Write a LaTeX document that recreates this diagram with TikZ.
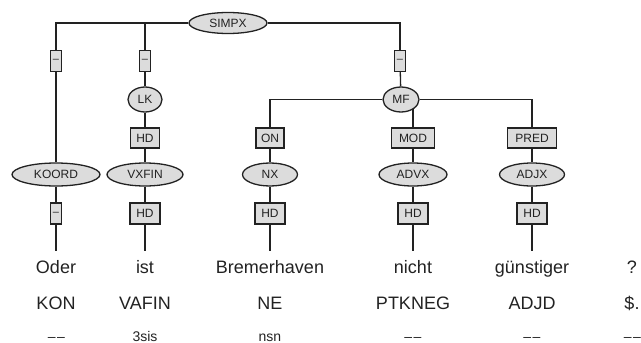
\documentclass[tikz,border=0pt]{standalone}
\usepackage{fontspec}
\setmainfont{Liberation Sans}
\usetikzlibrary{shapes.geometric,backgrounds}
\definecolor{nodefill}{HTML}{DCDCDC}
\definecolor{ink}{HTML}{222222}
\begin{document}
\begin{tikzpicture}[x=1pt,y=-1pt,
  line width=1.3pt,
  conn/.style={draw=ink, line width=1.3pt},
  cat/.style={ellipse, draw=ink, fill=nodefill, line width=1.3pt, inner sep=0pt, text=ink,
    font=\fontsize{12}{12}\selectfont},
  fnbox/.style={rectangle, draw=ink, fill=nodefill, line width=1.3pt, inner sep=0pt,
    minimum height=20, text=ink, font=\fontsize{12}{12}\selectfont},
  dashbox/.style={rectangle, draw=ink, fill=nodefill, line width=1.3pt, inner sep=0pt,
    minimum width=11, minimum height=21, text=ink, font=\fontsize{11}{11}\selectfont},
  wordtxt/.style={anchor=base, inner sep=0pt, text height=13, text depth=4, text=ink,
    font=\fontsize{18}{18}\selectfont},
  postag/.style={anchor=base, inner sep=0pt, text=ink, font=\fontsize{18}{18}\selectfont},
  morphtxt/.style={anchor=base, inner sep=0pt, text=ink, font=\fontsize{14}{14}\selectfont}
]
\useasboundingbox (0,0) rectangle (641,343);

% category nodes
\node[cat, minimum width=78, minimum height=21] (simpx) at (228,23) {SIMPX};
\node[cat, minimum width=34, minimum height=25] (lk) at (145,99.5) {LK};
\node[cat, minimum width=36, minimum height=25] (mf) at (401,99.5) {MF};
\node[cat, minimum width=88, minimum height=23] (koord) at (56,174.5) {KOORD};
\node[cat, minimum width=76, minimum height=23] (vxfin) at (145,174.5) {VXFIN};
\node[cat, minimum width=55, minimum height=23] (nx) at (270,174.5) {NX};
\node[cat, minimum width=68, minimum height=23] (advx) at (413,174.5) {ADVX};
\node[cat, minimum width=65, minimum height=23] (adjx) at (532,174.5) {ADJX};

% function label boxes
\node[dashbox] (d1) at (56,61) {–};
\node[dashbox] (d2) at (145,61) {–};
\node[dashbox] (d3) at (400,61) {–};
\node[dashbox] (d4) at (56,213.5) {–};
\node[fnbox, minimum width=29] (hd1) at (145,138) {HD};
\node[fnbox, minimum width=28] (on) at (270,138) {ON};
\node[fnbox, minimum width=43] (mod) at (413,138) {MOD};
\node[fnbox, minimum width=49] (pred) at (532,138) {PRED};
\node[fnbox, minimum width=30, minimum height=21] (hd2) at (145,213.5) {HD};
\node[fnbox, minimum width=30, minimum height=21] (hd3) at (270,213.5) {HD};
\node[fnbox, minimum width=30, minimum height=21] (hd4) at (413,213.5) {HD};
\node[fnbox, minimum width=30, minimum height=21] (hd5) at (532,213.5) {HD};

% words
\node[wordtxt] (w1) at (56,273) {Oder};
\node[wordtxt] (w2) at (145,273) {ist};
\node[wordtxt] (w3) at (270,273) {Bremerhaven};
\node[wordtxt] (w4) at (413,273) {nicht};
\node[wordtxt] (w5) at (532,273) {günstiger};
\node[wordtxt] (w6) at (632,273) {?};

% POS tags
\node[postag] (p1) at (56,309) {KON};
\node[postag] (p2) at (145,309) {VAFIN};
\node[postag] (p3) at (270,309) {NE};
\node[postag] (p4) at (413,309) {PTKNEG};
\node[postag] (p5) at (532,309) {ADJD};
\node[postag] (p6) at (632,309) {\$.};

% morphology
\node[morphtxt] (m1) at (56.5,341) {–\hspace{1.5pt}–};
\node[morphtxt] (m2) at (145,341) {3sis};
\node[morphtxt] (m3) at (270,341) {nsn};
\node[morphtxt] (m4) at (413,341) {–\hspace{1.5pt}–};
\node[morphtxt] (m5) at (532,341) {–\hspace{1.5pt}–};
\node[morphtxt] (m6) at (632.5,341) {–\hspace{1.5pt}–};

\begin{scope}[on background layer]
  \draw[conn] (simpx) -| (d1);
  \draw[conn] (simpx) -| (d2);
  \draw[conn] (simpx) -| (d3);
  \draw[conn] (d1) -- (koord);
  \draw[conn] (d2) -- (lk);
  \draw[conn] (d3) -- (mf);
  \draw[conn] (lk) -- (hd1) -- (vxfin);
  \draw[conn] (mf) -| (on);
  \draw[conn] (mf) -| (pred);
  \draw[conn] (mod |- mf) -- (mod);
  \draw[conn] (on) -- (nx);
  \draw[conn] (mod) -- (advx);
  \draw[conn] (pred) -- (adjx);
  \draw[conn, shorten >=8pt] (koord) -- (d4) -- (w1);
  \draw[conn, shorten >=8pt] (vxfin) -- (hd2) -- (w2);
  \draw[conn, shorten >=8pt] (nx) -- (hd3) -- (w3);
  \draw[conn, shorten >=8pt] (advx) -- (hd4) -- (w4);
  \draw[conn, shorten >=8pt] (adjx) -- (hd5) -- (w5);
\end{scope}
\end{tikzpicture}
\end{document}
